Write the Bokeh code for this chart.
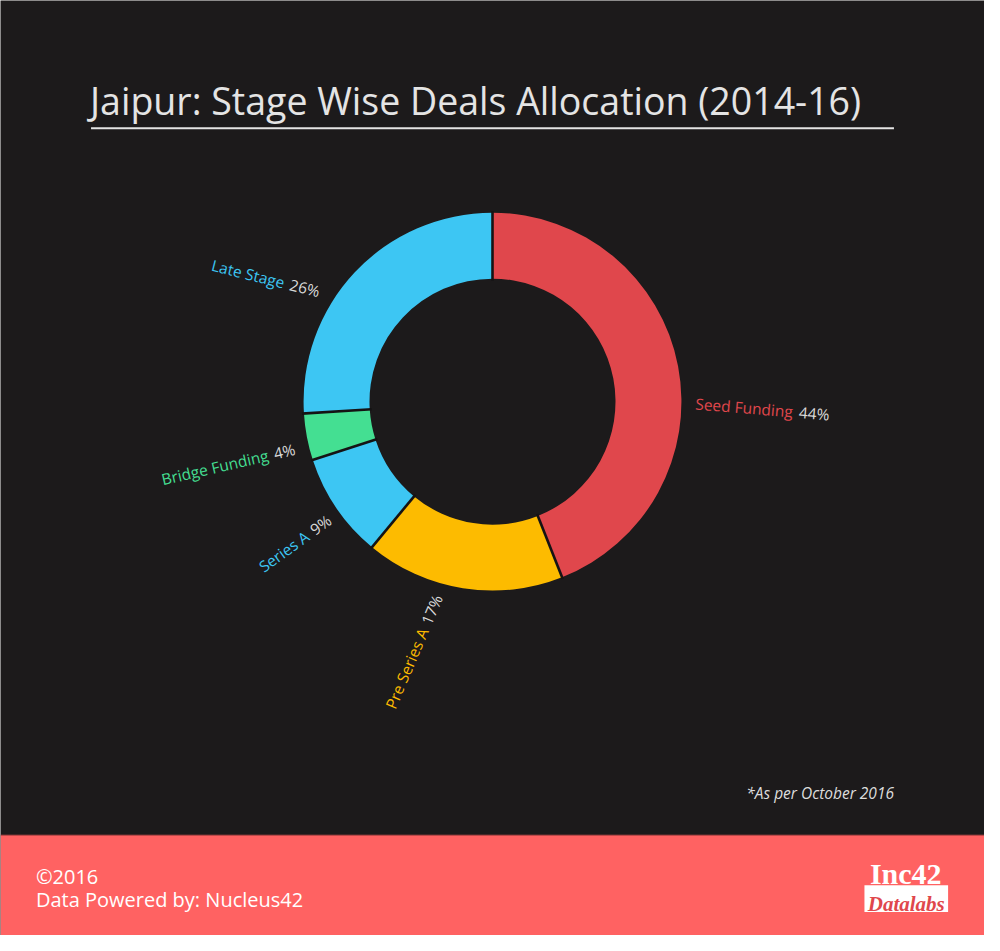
import math
from bokeh.plotting import figure
from bokeh.models import Range1d, ColumnDataSource
from bokeh.core.properties import value
from bokeh.embed import file_html
from bokeh.resources import INLINE

# ---------------- data ----------------
stages = ["Seed Funding", "Pre Series A", "Series A", "Bridge Funding", "Late Stage"]
shares = [44, 17, 9, 4, 26]
colors = ["#E0474C", "#FDBB00", "#3DC6F3", "#44DF92", "#3DC6F3"]

title_text = "Jaipur: Stage Wise Deals Allocation (2014-16)"
note_text = "*As per October 2016"
footer_lines = ["\u00a92016", "Data Powered by: Nucleus42"]

# ---------------- layout ----------------
W, H = 984, 935
REF_W, REF_H = 1000, 951
K = W / REF_W  # screen px per data unit
BG = "#1C1A1B"
FOOT = "#FF6262"
PCT_COLOR = "#D9D9D9"
FONT = "Open Sans"
BASE_FIX = 0.27  # em; raise text so its baseline lands on the anchor


def Y(yref):
    # reference pixel row -> data y (y up)
    return REF_H - yref


CX, CY = 500, Y(408)
R_IN, R_OUT = 125, 192

# label layout: polar anchor (deg, radius), rotation (deg), anchor side
label_polar = [(-1.7, 206), (255.4, 205.5), (216.8, 204), (194.6, 206.5), (148.6, 207)]
label_rot = [-4.7, 67, 36, 13, -14]
label_side = ["start", "end", "end", "end", "end"]
LABEL_SIZE = 15.5

# Open Sans approximate advance widths (em)
CW = {" ": 0.26, "%": 0.84, "A": 0.633, "B": 0.648, "D": 0.738, "F": 0.524, "L": 0.519,
      "P": 0.603, "S": 0.549, "a": 0.556, "b": 0.613, "d": 0.613, "e": 0.561, "g": 0.548,
      "i": 0.258, "n": 0.618, "r": 0.408, "s": 0.479, "t": 0.361, "u": 0.618, "l": 0.258}


def text_w(s, size):
    return sum(CW.get(c, 0.572) for c in s) * size / K


p = figure(width=W, height=H, output_backend="svg", toolbar_location=None,
           x_range=Range1d(0, REF_W), y_range=Range1d(0, REF_H),
           min_border=0, background_fill_color=BG, border_fill_color=BG)
p.axis.visible = False
p.grid.visible = False
p.outline_line_color = None

# ---------- donut ----------
total = float(sum(shares))
cum = [0.0]
for s in shares:
    cum.append(cum[-1] + s)
start_deg = [90 - 360 * cum[i + 1] / total for i in range(len(shares))]
end_deg = [90 - 360 * cum[i] / total for i in range(len(shares))]
wsrc = ColumnDataSource(dict(start=start_deg, end=end_deg, color=colors))
p.annular_wedge(x=CX, y=CY, inner_radius=R_IN, outer_radius=R_OUT,
                start_angle="start", end_angle="end", start_angle_units="deg",
                end_angle_units="deg", fill_color="color", line_color=None, source=wsrc)

# separators
bx0, by0, bx1, by1 = [], [], [], []
for c in cum[:-1]:
    a = math.radians(90 - 360 * c / total)
    bx0.append(CX + (R_IN - 2) * math.cos(a)); by0.append(CY + (R_IN - 2) * math.sin(a))
    bx1.append(CX + (R_OUT + 2) * math.cos(a)); by1.append(CY + (R_OUT + 2) * math.sin(a))
p.segment(x0=bx0, y0=by0, x1=bx1, y1=by1, line_color="#151314", line_width=2.6)

# ---------- labels ----------
nx, ny, na, nal, ncol = [], [], [], [], []
px, py, pa, pal, ptxt = [], [], [], [], []
for i, name in enumerate(stages):
    pct = f"{shares[i]}%"
    ang, r = label_polar[i]
    rot = math.radians(label_rot[i])
    ux, uy = math.cos(rot), math.sin(rot)
    fix = BASE_FIX * LABEL_SIZE / K
    ax = CX + r * math.cos(math.radians(ang)) - fix * uy
    ay = CY + r * math.sin(math.radians(ang)) + fix * ux
    sp = 0.36 * LABEL_SIZE / K
    if label_side[i] == "start":
        d = text_w(name, LABEL_SIZE) + sp
        nx.append(ax); ny.append(ay); nal.append("left")
        px.append(ax + d * ux); py.append(ay + d * uy); pal.append("left")
    else:
        d = text_w(pct, LABEL_SIZE) + sp
        px.append(ax); py.append(ay); pal.append("right")
        nx.append(ax - d * ux); ny.append(ay - d * uy); nal.append("right")
    na.append(rot); pa.append(rot); ncol.append(colors[i]); ptxt.append(pct)

p.text(x="x", y="y", text="t", angle="a", text_align="al", text_color="c",
       source=ColumnDataSource(dict(x=nx, y=ny, t=stages, a=na, al=nal, c=ncol)),
       text_font=value(FONT), text_font_size=f"{LABEL_SIZE}px", text_baseline="alphabetic")
p.text(x="x", y="y", text="t", angle="a", text_align="al",
       source=ColumnDataSource(dict(x=px, y=py, t=ptxt, a=pa, al=pal)),
       text_color=PCT_COLOR, text_font=value(FONT), text_font_size=f"{LABEL_SIZE}px",
       text_baseline="alphabetic")

# ---------- title ----------
TS = 37.5
p.text(x=[91], y=[Y(112) + BASE_FIX * TS], text=[title_text], text_color="#E4E4E4",
       text_font=value(FONT), text_font_size=f"{TS}px", text_baseline="alphabetic")
p.segment(x0=[92], y0=[Y(130)], x1=[908], y1=[Y(130)], line_color="#E4E4E4", line_width=2)

# ---------- note ----------
NS = 15.5
p.text(x=[908], y=[Y(810) + BASE_FIX * NS], text=[note_text], text_color="#DDDDDD",
       text_align="right", text_font=value(FONT), text_font_size=f"{NS}px",
       text_font_style="italic", text_baseline="alphabetic")

# ---------- footer ----------
FS = 20
p.quad(left=[0], right=[REF_W], bottom=[0], top=[Y(849)], fill_color=FOOT, line_color=None)
p.segment(x0=[0], y0=[Y(849)], x1=[REF_W], y1=[Y(849)], line_color="#B84848", line_width=1)
p.text(x=[36, 36], y=[Y(896) + BASE_FIX * FS, Y(920) + BASE_FIX * FS], text=footer_lines,
       text_color="#FFFFFF", text_font=value(FONT), text_font_size=f"{FS}px",
       text_baseline="alphabetic")

# logo
LS = 30
p.text(x=[920], y=[Y(894) + 0.2 * LS], text=["Inc42"], text_color="#FFFFFF",
       text_align="center", text_font=value("Liberation Serif"), text_font_size=f"{LS}px",
       text_font_style="bold", text_baseline="alphabetic")
p.quad(left=[878], right=[963], bottom=[Y(927)], top=[Y(900)], fill_color="#FFFFFF", line_color=None)
DS = 21
p.text(x=[920.5], y=[Y(921) + 0.12 * DS], text=["Datalabs"], text_color="#E0474C",
       text_align="center", text_font=value("Liberation Serif"), text_font_size=f"{DS}px",
       text_font_style="bold italic", text_baseline="alphabetic")

open("out.html", "w").write(file_html(p, INLINE))
